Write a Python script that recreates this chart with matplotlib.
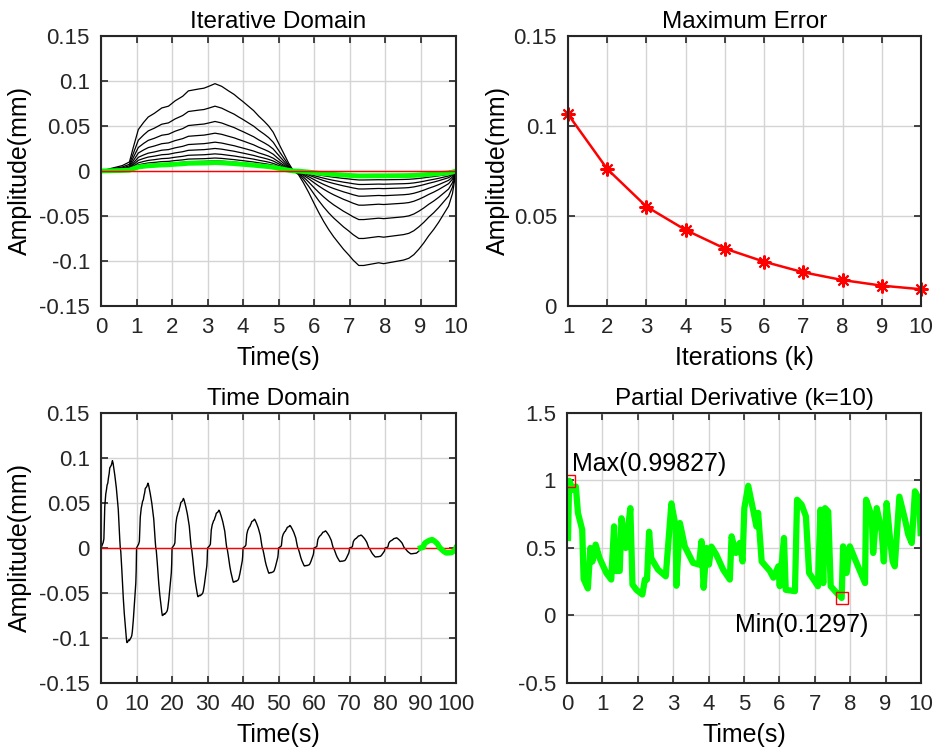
import numpy as np
import matplotlib
matplotlib.use('Agg')
import matplotlib.pyplot as plt
from matplotlib.ticker import FuncFormatter

plt.rcParams['font.family'] = ['Liberation Sans', 'DejaVu Sans']
plt.rcParams['font.size'] = 16

err_t = [0, 0.2, 0.4, 0.6, 0.8, 0.9, 1.05, 1.2, 1.33, 1.5, 1.71, 1.9, 2.09, 2.3, 2.46,
         2.6, 2.74, 2.9, 3.03, 3.21, 3.4, 3.59, 3.75, 3.87, 4.0, 4.15, 4.3, 4.44, 4.6,
         4.72, 4.85, 4.95, 5.05, 5.14, 5.28, 5.42, 5.56, 5.7, 5.85, 6.0, 6.13, 6.27,
         6.41, 6.55, 6.69, 6.83, 6.97, 7.1, 7.26, 7.4, 7.54, 7.68, 7.82, 7.96, 8.1,
         8.24, 8.38, 8.52, 8.67, 8.81, 8.95, 9.09, 9.23, 9.37, 9.51, 9.65, 9.79, 9.9, 10.0]
err_1 = [0, 0.002, 0.004, 0.006, 0.010, 0.025, 0.046, 0.054, 0.060, 0.064, 0.070, 0.072,
         0.078, 0.083, 0.089, 0.090, 0.091, 0.092, 0.094, 0.097, 0.094, 0.089, 0.085,
         0.081, 0.077, 0.072, 0.067, 0.061, 0.055, 0.050, 0.043, 0.035, 0.027, 0.020,
         0.009, 0.0, -0.004, -0.013, -0.024, -0.036, -0.046, -0.056, -0.065, -0.073,
         -0.080, -0.087, -0.093, -0.099, -0.105, -0.105, -0.104, -0.103, -0.102, -0.103,
         -0.102, -0.101, -0.100, -0.099, -0.097, -0.093, -0.087, -0.080, -0.072, -0.065,
         -0.057, -0.048, -0.039, -0.025, 0.0]

# positive / negative peaks of each iteration
pos_peak = [0.097, 0.072, 0.055, 0.042, 0.032, 0.025, 0.019, 0.0144, 0.0113, 0.0093]
neg_peak = [0.105, 0.075, 0.054, 0.038, 0.028, 0.020, 0.015, 0.010, 0.0065, 0.0055]

# maximum error per iteration
iters = [1, 2, 3, 4, 5, 6, 7, 8, 9, 10]
max_err = [0.1065, 0.0761, 0.0552, 0.0422, 0.0319, 0.0246, 0.0187, 0.0144, 0.0113, 0.0093]

# partial derivative (k=10)
pd_t = [0.03, 0.06, 0.17, 0.25, 0.31, 0.43, 0.47, 0.59, 0.66, 0.72, 0.81, 0.92, 1.11, 1.25,
        1.33, 1.38, 1.49, 1.54, 1.66, 1.79, 1.85, 1.96, 2.13, 2.20, 2.26, 2.32, 2.38, 2.57,
        2.79, 2.95, 3.07, 3.09, 3.19, 3.33, 3.56, 3.73, 3.80, 3.86, 3.94, 4.01, 4.08, 4.22,
        4.41, 4.60, 4.65, 4.77, 4.88, 4.96, 5.01, 5.12, 5.26, 5.35, 5.40, 5.50, 5.73, 5.83,
        5.97, 6.01, 6.13, 6.18, 6.44, 6.50, 6.63, 6.75, 6.84, 7.09, 7.16, 7.24, 7.29, 7.38,
        7.45, 7.62, 7.76, 7.80, 7.90, 7.99, 8.18, 8.42, 8.45, 8.61, 8.65, 8.75, 8.89, 8.95,
        9.03, 9.12, 9.20, 9.26, 9.39, 9.55, 9.64, 9.74, 9.83, 9.95, 9.99]
pd_val = [0.574, 0.998, 0.93, 0.955, 0.76, 0.635, 0.27, 0.20, 0.50, 0.40, 0.525, 0.425, 0.315,
          0.266, 0.66, 0.33, 0.33, 0.72, 0.50, 0.795, 0.23, 0.19, 0.155, 0.266, 0.266, 0.62,
          0.425, 0.34, 0.29, 0.83, 0.66, 0.22, 0.685, 0.51, 0.39, 0.377, 0.55, 0.205, 0.50,
          0.377, 0.51, 0.45, 0.34, 0.266, 0.586, 0.463, 0.537, 0.40, 0.795, 0.96, 0.78, 0.66,
          0.76, 0.40, 0.33, 0.28, 0.364, 0.217, 0.574, 0.19, 0.18, 0.857, 0.82, 0.734, 0.315,
          0.217, 0.783, 0.24, 0.795, 0.77, 0.217, 0.167, 0.1297, 0.512, 0.315, 0.512, 0.39,
          0.24, 0.857, 0.734, 0.463, 0.795, 0.623, 0.40, 0.832, 0.586, 0.40, 0.364, 0.88,
          0.71, 0.60, 0.537, 0.92, 0.857, 0.61]

# build the error curve of every iteration from the first profile and its peaks
e1 = np.array(err_1)
curves = []
for k in range(len(pos_peak)):
    c = np.where(e1 > 0, e1 * pos_peak[k] / max(err_1), e1 * neg_peak[k] / -min(err_1))
    curves.append(c)

edge = '#262626'
gridc = '#d4d4d4'
fmt = FuncFormatter(lambda v, p: '%g' % round(v, 6))
LBL = 18
TTL = 17.5


def style(ax):
    ax.grid(True, color=gridc, linewidth=1.0)
    ax.set_axisbelow(True)
    ax.tick_params(direction='in', length=5, width=1.2, top=True, right=True,
                   colors=edge, labelcolor=edge, pad=8, labelsize=16)
    for s in ax.spines.values():
        s.set_linewidth(1.5)
        s.set_color(edge)
    ax.yaxis.set_major_formatter(fmt)


fig = plt.figure(figsize=(9.33, 7.54), dpi=100)
ax1 = fig.add_axes([0.1083, 0.5942, 0.3805, 0.3581])
ax2 = fig.add_axes([0.6088, 0.5942, 0.3783, 0.3581])
ax3 = fig.add_axes([0.1083, 0.0942, 0.3805, 0.3581])
ax4 = fig.add_axes([0.6077, 0.0942, 0.3794, 0.3581])

# Iterative Domain
for k in range(len(curves) - 1):
    ax1.plot(err_t, curves[k], color='black', linewidth=0.9)
ax1.plot(err_t, curves[-1], color='#00ff00', linewidth=3.5)
ax1.plot([0, 10], [0, 0], color='red', linewidth=1.0)
ax1.set_xlim(0, 10)
ax1.set_ylim(-0.15, 0.15)
ax1.set_xticks(range(0, 11))
ax1.set_yticks([-0.15, -0.1, -0.05, 0, 0.05, 0.1, 0.15])
ax1.set_title('Iterative Domain', fontsize=TTL, pad=6)
ax1.set_xlabel('Time(s)', fontsize=LBL, labelpad=6)
ax1.set_ylabel('Amplitude(mm)', fontsize=LBL)
ax1.yaxis.set_label_coords(-0.194, 0.5)
style(ax1)

# Maximum Error
ax2.plot(iters, max_err, color='red', linewidth=1.8, marker=(8, 2, 0),
         markersize=10, markeredgewidth=1.5, clip_on=False)
ax2.set_xlim(1, 10)
ax2.set_ylim(0, 0.15)
ax2.set_xticks(iters)
ax2.set_yticks([0, 0.05, 0.1, 0.15])
ax2.set_title('Maximum Error', fontsize=TTL, pad=6)
ax2.set_xlabel('Iterations (k)', fontsize=LBL, labelpad=6)
ax2.set_ylabel('Amplitude(mm)', fontsize=LBL)
ax2.yaxis.set_label_coords(-0.164, 0.5)
style(ax2)

# Time Domain
n = len(curves)
t_all = np.concatenate([np.array(err_t) + 10 * k for k in range(n - 1)])
y_all = np.concatenate(curves[:-1])
ax3.plot(t_all, y_all, color='black', linewidth=1.0)
ax3.plot([0, 100], [0, 0], color='red', linewidth=1.0)
ax3.plot(np.array(err_t) + 10 * (n - 1), curves[-1], color='#00ff00', linewidth=4)
ax3.set_xlim(0, 100)
ax3.set_ylim(-0.15, 0.15)
ax3.set_xticks(range(0, 101, 10))
ax3.set_yticks([-0.15, -0.1, -0.05, 0, 0.05, 0.1, 0.15])
ax3.set_title('Time Domain', fontsize=TTL, pad=6)
ax3.set_xlabel('Time(s)', fontsize=LBL, labelpad=6)
ax3.set_ylabel('Amplitude(mm)', fontsize=LBL)
ax3.yaxis.set_label_coords(-0.194, 0.5)
style(ax3)

# Partial Derivative
ax4.plot(pd_t, pd_val, color='#00ff00', linewidth=4.5)
imax = int(np.argmax(pd_val))
imin = int(np.argmin(pd_val))
ax4.plot(pd_t[imax], pd_val[imax], marker='s', markersize=9, mfc='none', mec='red', mew=1.0)
ax4.plot(pd_t[imin], pd_val[imin], marker='s', markersize=9, mfc='none', mec='red', mew=1.0)
ax4.text(pd_t[imax] + 0.08, pd_val[imax] + 0.125, 'Max(0.99827)', fontsize=LBL, va='center', ha='left')
ax4.text(pd_t[imin] - 3.02, pd_val[imin] - 0.2, 'Min(0.1297)', fontsize=LBL, va='center', ha='left')
ax4.set_xlim(0, 10)
ax4.set_ylim(-0.5, 1.5)
ax4.set_xticks(range(0, 11))
ax4.set_yticks([-0.5, 0, 0.5, 1, 1.5])
ax4.set_title('Partial Derivative (k=10)', fontsize=TTL, pad=6)
ax4.set_xlabel('Time(s)', fontsize=LBL, labelpad=6)
style(ax4)

fig.savefig('out.png', dpi=100)
